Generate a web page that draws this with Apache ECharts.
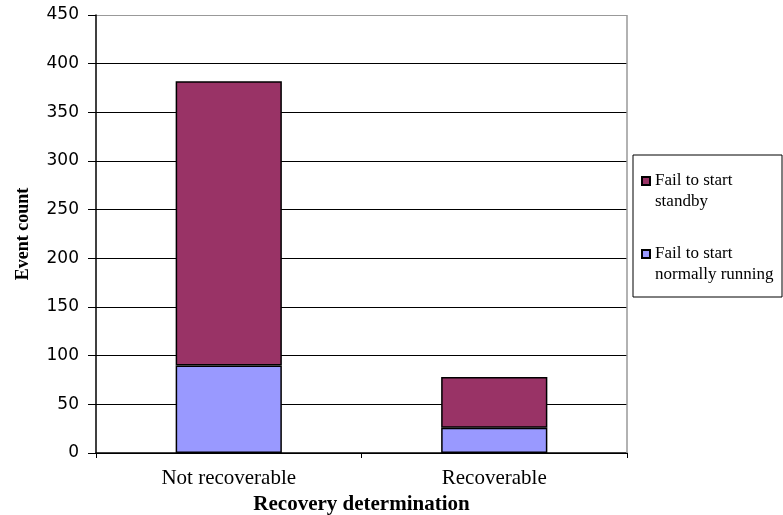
<!DOCTYPE html>
<html>
<head>
<meta charset="utf-8">
<script src="https://cdn.jsdelivr.net/npm/echarts@6/dist/echarts.min.js"></script>
<style>
html, body { margin: 0; padding: 0; background: #fff; }
#chart { width: 783px; height: 515px; }
</style>
</head>
<body>
<div id="chart"></div>
<script>
var categories = ['Not recoverable', 'Recoverable'];
var normallyRunning = [90, 26];
var standby = [292, 52];
var yTicks = [0, 50, 100, 150, 200, 250, 300, 350, 400, 450];

var serif = '"Liberation Serif", "Times New Roman", serif';
// square marker at the top of a taller box, so it lines up with the first text line
var topSquare = 'path://M0,0L10,0L10,10L0,10Z M0,35L0,35';

// grid lines are black, the top (450) one is grey like the plot border
var splitColors = yTicks.map(function (v, i) { return i === yTicks.length - 1 ? '#999' : '#000'; });

var chart = echarts.init(document.getElementById('chart'));
chart.setOption({
    animation: false,
    grid: { left: 96, right: 156, top: 15, bottom: 62, outerBoundsMode: 'none' },
    graphic: [{
        type: 'line',
        shape: { x1: 627, y1: 15, x2: 627, y2: 453 },
        style: { stroke: '#999', lineWidth: 1.5 },
        z: 1
    }, {
        type: 'rect',
        shape: { x: 633, y: 155, width: 149, height: 142 },
        style: { fill: '#fff', stroke: '#000', lineWidth: 1 },
        z: 1
    }],
    legend: {
        orient: 'vertical',
        left: 636,
        top: 165,
        itemWidth: 8,
        itemHeight: 29,
        itemGap: 31,
        z: 5,
        icon: topSquare,
        data: ['Fail to start\nstandby', 'Fail to start\nnormally running'],
        textStyle: { fontFamily: serif, fontSize: 17, color: '#000', lineHeight: 21 }
    },
    xAxis: {
        type: 'category',
        data: categories,
        name: 'Recovery determination',
        nameLocation: 'middle',
        nameGap: 37,
        nameTextStyle: { fontFamily: serif, fontSize: 21, fontWeight: 'bold', color: '#000' },
        axisLine: { lineStyle: { color: '#000', width: 1.5 } },
        axisTick: { show: true, length: 5, lineStyle: { color: '#000' } },
        axisLabel: { fontFamily: serif, fontSize: 21, color: '#000', margin: 15 },
        splitLine: { show: false }
    },
    yAxis: {
        type: 'value',
        min: 0,
        max: 450,
        interval: 50,
        name: 'Event count',
        nameLocation: 'middle',
        nameGap: 64,
        nameTextStyle: { fontFamily: serif, fontSize: 18, fontWeight: 'bold', color: '#000' },
        axisLine: { show: true, lineStyle: { color: '#000', width: 1.5 } },
        axisTick: { show: true, length: 8, lineStyle: { color: '#000' } },
        axisLabel: {
            fontFamily: '"DejaVu Sans", Verdana, sans-serif', fontSize: 17, color: '#000', margin: 17,
            padding: [4, 0, 0, 0],
            formatter: function (v) { return yTicks.indexOf(v) >= 0 ? String(v) : ''; }
        },
        splitLine: { show: true, lineStyle: { color: splitColors, width: 1.2 } }
    },
    series: [{
        name: 'Fail to start\nnormally running',
        type: 'bar',
        stack: 'total',
        barWidth: '40%',
        data: normallyRunning,
        itemStyle: { color: '#9999FF', borderColor: '#000', borderWidth: 1.5 }
    }, {
        name: 'Fail to start\nstandby',
        type: 'bar',
        stack: 'total',
        barWidth: '40%',
        data: standby,
        itemStyle: { color: '#993366', borderColor: '#000', borderWidth: 1.5 }
    }]
});
</script>
</body>
</html>
